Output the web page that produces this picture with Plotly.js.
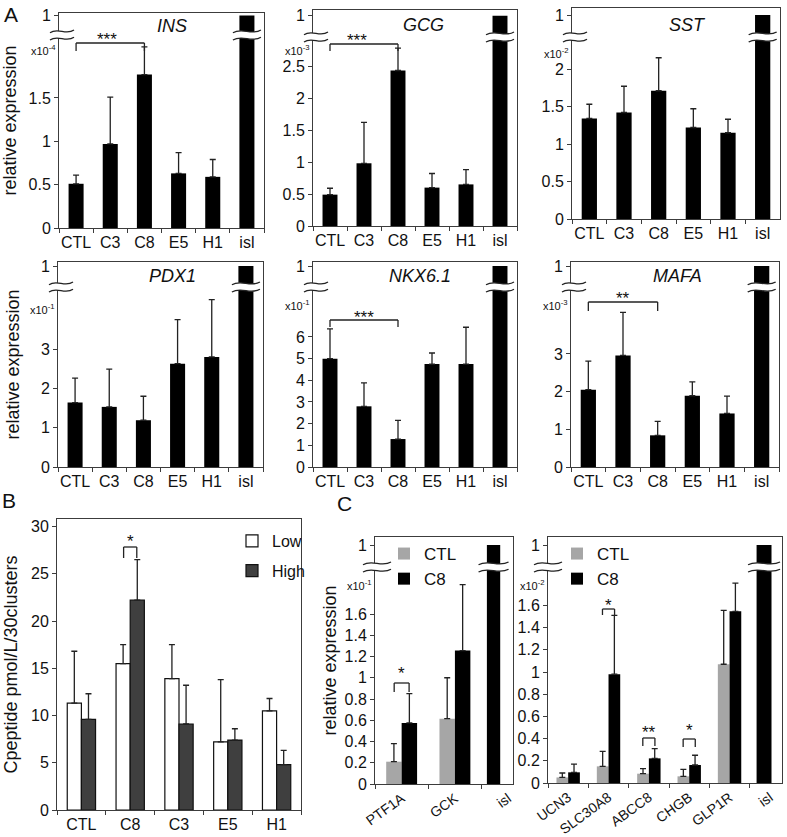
<!DOCTYPE html>
<html>
<head>
<meta charset="utf-8">
<script src="https://cdn.plot.ly/plotly-3.0.1.min.js"></script>
<style>html,body{margin:0;padding:0;background:#fff;}#chart{width:787px;height:837px;}</style>
</head>
<body>
<div id="chart"></div>
<script>
// ===== Data =====
// Panel A: relative expression (isl = 1, drawn above the axis break)
const groupsA = ['CTL', 'C3', 'C8', 'E5', 'H1', 'isl'];
const insMean  = [0.51, 0.97, 1.77, 0.63, 0.59, 1];
const insErr   = [0.10, 0.54, 0.32, 0.24, 0.20, null];
const gcgMean  = [0.49, 0.98, 2.43, 0.60, 0.65, 1];
const gcgErr   = [0.10, 0.64, 0.35, 0.22, 0.23, null];
const sstMean  = [1.34, 1.42, 1.71, 1.22, 1.15, 1];
const sstErr   = [0.19, 0.35, 0.44, 0.25, 0.18, null];
const pdx1Mean = [1.64, 1.53, 1.19, 2.63, 2.80, 1];
const pdx1Err  = [0.62, 0.96, 0.61, 1.12, 1.46, null];
const nkxMean  = [5.00, 2.80, 1.29, 4.75, 4.75, 1];
const nkxErr   = [1.37, 1.08, 0.86, 0.51, 1.70, null];
const mafaMean = [2.05, 2.96, 0.84, 1.89, 1.42, 1];
const mafaErr  = [0.76, 1.14, 0.37, 0.37, 0.46, null];

const insTicks  = [0, 0.5, 1, 1.5];
const gcgTicks  = [0, 0.5, 1, 1.5, 2, 2.5];
const sstTicks  = [0, 0.5, 1, 1.5, 2];
const pdx1Ticks = [0, 1, 2, 3];
const nkxTicks  = [0, 1, 2, 3, 4, 5, 6];
const mafaTicks = [0, 1, 2, 3];

// Panel B: C-peptide secretion
const groupsB  = ['CTL', 'C8', 'C3', 'E5', 'H1'];
const lowMean  = [11.3, 15.5, 13.9, 7.2, 10.5];
const lowErr   = [5.5, 2.0, 3.6, 6.6, 1.3];
const highMean = [9.6, 22.2, 9.1, 7.4, 4.8];
const highErr  = [2.7, 4.3, 4.1, 1.2, 1.5];
const bTicks   = [0, 5, 10, 15, 20, 25, 30];

// Panel C
const genesC1   = ['PTF1A', 'GCK', 'isl'];
const c1CtlMean = [0.21, 0.615];
const c1CtlErr  = [0.17, 0.385];
const c1C8Mean  = [0.575, 1.256];
const c1C8Err   = [0.275, 0.62];
const c1Islet   = 1;
const genesC2   = ['UCN3', 'SLC30A8', 'ABCC8', 'CHGB', 'GLP1R', 'isl'];
const c2CtlMean = [0.05, 0.15, 0.084, 0.06, 1.07];
const c2CtlErr  = [0.04, 0.135, 0.046, 0.063, 0.485];
const c2C8Mean  = [0.096, 0.98, 0.222, 0.162, 1.547];
const c2C8Err   = [0.074, 0.53, 0.088, 0.088, 0.253];
const c2Islet   = 1;
const cTicks    = [0, 0.2, 0.4, 0.6, 0.8, 1, 1.2, 1.4, 1.6];
const cTickText = ['0', '0.2', '0.4', '0.6', '0.8', '1', '1.2', '1.4', '1.6'];

// ===== Drawing =====
const W = 787, H = 837;
const FONT = 'Liberation Sans, Arial, Helvetica, sans-serif';
const INK = '#111111';
const AXC = '#3c3c3c';

const data = [], shapes = [], annotations = [];
const layout = {
  width: W, height: H, margin: {l: 0, r: 0, t: 0, b: 0},
  paper_bgcolor: '#ffffff', plot_bgcolor: 'rgba(0,0,0,0)',
  font: {family: FONT, size: 16, color: INK},
  barmode: 'group', bargap: 0.42, bargroupgap: 0,
  hovermode: false, showlegend: true,
  shapes: shapes, annotations: annotations
};

const xp = v => v / W;
const yp = v => 1 - v / H;
const sfx = n => (n === 1 ? '' : String(n));
const toY = (p, ypx) => (p.B - ypx) / p.unit;
const xToPx = (p, xv) => p.L + (xv - p.xr[0]) * (p.R - p.L) / (p.xr[1] - p.xr[0]);

function errY(err) {
  return {
    type: 'data', symmetric: false, visible: true,
    array: err.map(e => (e == null ? NaN : e)),
    arrayminus: err.map(e => (e == null ? NaN : 0)),
    color: '#222222', thickness: 1.3, width: 3
  };
}

function makeAxes(p, cats, tickv, tickt, opts) {
  const s = sfx(p.id);
  const ymax = (p.B - p.T) / p.unit;
  layout['xaxis' + s] = Object.assign({
    domain: [xp(p.L), xp(p.R)], anchor: 'y' + s, type: 'category',
    categoryorder: 'array', categoryarray: cats, range: p.xr,
    showline: true, mirror: true, linecolor: AXC, linewidth: 1,
    ticks: 'outside', tickson: 'boundaries', ticklen: 4, tickcolor: AXC,
    showgrid: false, zeroline: false, tickangle: 0, tickfont: {size: 16, color: INK}
  }, opts.x || {});
  const ya = {
    domain: [yp(p.B), yp(p.T)], anchor: 'x' + s, range: [0, ymax],
    tickmode: 'array', tickvals: tickv, ticktext: tickt,
    showline: true, mirror: true, linecolor: AXC, linewidth: 1,
    ticks: 'outside', ticklen: 4, tickcolor: AXC,
    showgrid: false, zeroline: false, tickfont: {size: 16, color: INK}
  };
  if (opts.ytitle) ya.title = {text: opts.ytitle, font: {size: 18, color: INK}, standoff: opts.standoff};
  layout['yaxis' + s] = ya;
}

function squiggle(cx, cy, hw) {
  const a = 2.0, g = 3.6;
  const curve = yc => [[cx - hw, yc + a * 0.7], [cx - hw * 0.35, yc - a * 2.2], [cx + hw * 0.35, yc + a * 2.2], [cx + hw, yc - a * 0.7]];
  const up = curve(cy - g), lo = curve(cy + g);
  const P = pt => xp(pt[0]).toFixed(5) + ',' + yp(pt[1]).toFixed(5);
  const fill = 'M' + P(up[0]) + ' C' + P(up[1]) + ' ' + P(up[2]) + ' ' + P(up[3]) +
    ' L' + P(lo[3]) + ' C' + P(lo[2]) + ' ' + P(lo[1]) + ' ' + P(lo[0]) + ' Z';
  shapes.push({type: 'path', xref: 'paper', yref: 'paper', path: fill, fillcolor: '#ffffff', line: {width: 0}, layer: 'above'});
  [up, lo].forEach(c => shapes.push({
    type: 'path', xref: 'paper', yref: 'paper',
    path: 'M' + P(c[0]) + ' C' + P(c[1]) + ' ' + P(c[2]) + ' ' + P(c[3]),
    line: {color: '#222222', width: 1.3}, layer: 'above'
  }));
}

function bracket(p, sg) {
  const s = sfx(p.id);
  const yl = toY(p, sg.lineY), yd = toY(p, sg.dropY);
  const base = {type: 'line', xref: 'x' + s, yref: 'y' + s, line: {color: '#222222', width: 1.3}, layer: 'above'};
  shapes.push(Object.assign({x0: sg.x0, x1: sg.x0, y0: yd, y1: yl}, base));
  shapes.push(Object.assign({x0: sg.x0, x1: sg.x1, y0: yl, y1: yl}, base));
  shapes.push(Object.assign({x0: sg.x1, x1: sg.x1, y0: yl, y1: yd}, base));
  annotations.push({xref: 'x' + s, yref: 'y' + s, x: sg.sx, y: toY(p, sg.sy), text: sg.text,
    showarrow: false, font: {size: 17, color: INK}, yshift: -5});
}

function sciLabel(p, exp) {
  annotations.push({xref: 'paper', yref: 'paper', x: xp(p.L - 1), y: yp(p.sciY), xanchor: 'right', yanchor: 'middle',
    text: 'x10<sup>' + exp + '</sup>', showarrow: false, font: {size: 11, color: INK}});
}

// ---- Panel A ----
const panelsA = [
  {id: 1, gene: 'INS', mean: insMean, err: insErr, ticks: insTicks, exp: '-4',
   L: 59, R: 264, T: 13, B: 228, unit: 86.7, oneY: 15.5, brkY: 35, sciY: 50, tx: 172, ty: 26,
   ytitle: 'relative expression', standoff: 11,
   sig: {text: '***', x0: 0, x1: 2, lineY: 43, dropY: 51, sx: 0.9, sy: 35}},
  {id: 2, gene: 'GCG', mean: gcgMean, err: gcgErr, ticks: gcgTicks, exp: '-3',
   L: 313, R: 517, T: 10, B: 226, unit: 64, oneY: 15.7, brkY: 37, sciY: 50, tx: 423, ty: 25,
   sig: {text: '***', x0: 0, x1: 2, lineY: 44, dropY: 51, sx: 0.8, sy: 35}},
  {id: 3, gene: 'SST', mean: sstMean, err: sstErr, ticks: sstTicks, exp: '-2',
   L: 572, R: 780, T: 8, B: 219, unit: 75, oneY: 15, brkY: 37, sciY: 53, tx: 687, ty: 25},
  {id: 4, gene: 'PDX1', mean: pdx1Mean, err: pdx1Err, ticks: pdx1Ticks, exp: '-1',
   L: 58, R: 263, T: 262, B: 467, unit: 39.3, oneY: 266, brkY: 287, sciY: 309, tx: 172, ty: 276,
   ytitle: 'relative expression', standoff: 16},
  {id: 5, gene: 'NKX6.1', mean: nkxMean, err: nkxErr, ticks: nkxTicks, exp: '-1',
   L: 313, R: 517, T: 262, B: 467, unit: 21.67, oneY: 266, brkY: 287, sciY: 305, tx: 420, ty: 276,
   sig: {text: '***', x0: 0, x1: 2, lineY: 320, dropY: 327, sx: 1, sy: 312}},
  {id: 6, gene: 'MAFA', mean: mafaMean, err: mafaErr, ticks: mafaTicks, exp: '-3',
   L: 571, R: 779, T: 262, B: 467, unit: 37.7, oneY: 266, brkY: 287, sciY: 305, tx: 677, ty: 276,
   sig: {text: '**', x0: 0, x1: 2, lineY: 302, dropY: 311, sx: 1, sy: 293}}
];

panelsA.forEach(p => {
  p.xr = [-0.5, 5.5];
  const s = sfx(p.id);
  const one = toY(p, p.oneY);
  makeAxes(p, groupsA, p.ticks.concat([one]), p.ticks.map(String).concat(['1']),
    {ytitle: p.ytitle, standoff: p.standoff});
  data.push({
    type: 'bar', name: p.gene, x: groupsA,
    y: p.mean.map((v, i) => (groupsA[i] === 'isl' ? one : v)),
    xaxis: 'x' + s, yaxis: 'y' + s, width: 0.44,
    marker: {color: '#000000', line: {width: 0}}, error_y: errY(p.err), showlegend: false
  });
  annotations.push({xref: 'paper', yref: 'paper', x: xp(p.tx), y: yp(p.ty), text: '<i>' + p.gene + '</i>',
    showarrow: false, font: {size: 18, color: INK}, xanchor: 'center', yanchor: 'middle'});
  sciLabel(p, p.exp);
  squiggle(p.L + 3, p.brkY, 12);
  squiggle(xToPx(p, groupsA.indexOf('isl')), p.brkY, 14);
  if (p.sig) bracket(p, p.sig);
});

// ---- Panel B ----
const pB = {id: 7, L: 57, R: 301, T: 519, B: 810, unit: 9.45, xr: [-0.5, 4.5]};
makeAxes(pB, groupsB, bTicks, bTicks.map(String), {ytitle: 'Cpeptide pmol/L/30clusters', standoff: 8});
data.push({type: 'bar', name: 'Low', x: groupsB, y: lowMean, xaxis: 'x7', yaxis: 'y7', offsetgroup: 'low',
  marker: {color: '#ffffff', line: {color: '#111111', width: 1.2}}, error_y: errY(lowErr),
  legend: 'legend', legendgroup: 'low'});
data.push({type: 'bar', name: 'High', x: groupsB, y: highMean, xaxis: 'x7', yaxis: 'y7', offsetgroup: 'high',
  marker: {color: '#3f3f3f', line: {color: '#111111', width: 1.2}}, error_y: errY(highErr),
  legend: 'legend', legendgroup: 'high'});
bracket(pB, {text: '*', x0: 0.865, x1: 1.135, lineY: 547, dropY: 558, sx: 1, sy: 536});

// ---- Panel C (left) ----
const cXaxis = {tickangle: -36, tickfont: {size: 14, color: INK}};
const pC1 = {id: 8, L: 375, R: 513, T: 537, B: 784, unit: 106.25, xr: [-0.5, 2.09], oneY: 545, brkY: 567, sciY: 585};
const oneC1 = toY(pC1, pC1.oneY);
makeAxes(pC1, genesC1, cTicks.concat([oneC1]), cTickText.concat(['1']),
  {ytitle: 'relative expression', standoff: 3, x: cXaxis});
data.push({type: 'bar', name: 'CTL', x: genesC1.slice(0, 2), y: c1CtlMean, xaxis: 'x8', yaxis: 'y8',
  offsetgroup: 'ctl', marker: {color: '#a6a6a6', line: {width: 0}}, error_y: errY(c1CtlErr),
  legend: 'legend2', legendgroup: 'ctl1'});
data.push({type: 'bar', name: 'C8', x: genesC1.slice(0, 2), y: c1C8Mean, xaxis: 'x8', yaxis: 'y8',
  offsetgroup: 'c8', marker: {color: '#000000', line: {width: 0}}, error_y: errY(c1C8Err),
  legend: 'legend2', legendgroup: 'c81'});
data.push({type: 'bar', name: 'C8', x: ['isl'], y: [c1Islet >= 1 ? oneC1 : c1Islet], xaxis: 'x8', yaxis: 'y8',
  offsetgroup: 'c8', offset: -0.4, width: 0.25, marker: {color: '#000000', line: {width: 0}}, showlegend: false});
sciLabel(pC1, '-1');
squiggle(pC1.L + 2, pC1.brkY, 14);
squiggle(xToPx(pC1, 2 - 0.4 + 0.125), pC1.brkY, 15);
bracket(pC1, {text: '*', x0: -0.14, x1: 0.14, lineY: 683, dropY: 692, sx: 0, sy: 668});

// ---- Panel C (right) ----
const pC2 = {id: 9, L: 548, R: 782, T: 537, B: 783, unit: 111, xr: [-0.5, 5.3], oneY: 545, brkY: 567, sciY: 585};
const oneC2 = toY(pC2, pC2.oneY);
makeAxes(pC2, genesC2, cTicks.concat([oneC2]), cTickText.concat(['1']), {x: cXaxis});
data.push({type: 'bar', name: 'CTL', x: genesC2.slice(0, 5), y: c2CtlMean, xaxis: 'x9', yaxis: 'y9',
  offsetgroup: 'ctl', marker: {color: '#a6a6a6', line: {width: 0}}, error_y: errY(c2CtlErr),
  legend: 'legend3', legendgroup: 'ctl2'});
data.push({type: 'bar', name: 'C8', x: genesC2.slice(0, 5), y: c2C8Mean, xaxis: 'x9', yaxis: 'y9',
  offsetgroup: 'c8', marker: {color: '#000000', line: {width: 0}}, error_y: errY(c2C8Err),
  legend: 'legend3', legendgroup: 'c82'});
data.push({type: 'bar', name: 'C8', x: ['isl'], y: [c2Islet >= 1 ? oneC2 : c2Islet], xaxis: 'x9', yaxis: 'y9',
  offsetgroup: 'c8', offset: -0.33, width: 0.37, marker: {color: '#000000', line: {width: 0}}, showlegend: false});
sciLabel(pC2, '-2');
squiggle(pC2.L, pC2.brkY, 14);
squiggle(xToPx(pC2, 5 - 0.33 + 0.185), pC2.brkY, 16);
bracket(pC2, {text: '*', x0: 0.85, x1: 1.15, lineY: 609, dropY: 615, sx: 1, sy: 600});
bracket(pC2, {text: '**', x0: 1.85, x1: 2.15, lineY: 738, dropY: 746, sx: 2, sy: 727});
bracket(pC2, {text: '*', x0: 2.85, x1: 3.15, lineY: 739, dropY: 747, sx: 3, sy: 725});

// ---- Legends ----
const legBase = {xanchor: 'left', yanchor: 'top', bgcolor: 'rgba(0,0,0,0)', borderwidth: 0, itemwidth: 30,
  traceorder: 'grouped', itemclick: false, itemdoubleclick: false};
layout.legend  = Object.assign({x: xp(232), y: yp(524), font: {size: 16, color: INK}, tracegroupgap: 6}, legBase);
layout.legend2 = Object.assign({x: xp(384), y: yp(536), font: {size: 17, color: INK}, tracegroupgap: 0}, legBase);
layout.legend3 = Object.assign({x: xp(557), y: yp(536), font: {size: 17, color: INK}, tracegroupgap: 0}, legBase);

// ---- Panel letters ----
[['A', 10.5, 15], ['B', 9, 500], ['C', 344, 503]].forEach(l => annotations.push({
  xref: 'paper', yref: 'paper', x: xp(l[1]), y: yp(l[2]), text: l[0], showarrow: false,
  xanchor: 'center', yanchor: 'middle', font: {size: 21, color: INK}
}));

Plotly.newPlot('chart', data, layout, {staticPlot: true, displayModeBar: false});
</script>
</body>
</html>
